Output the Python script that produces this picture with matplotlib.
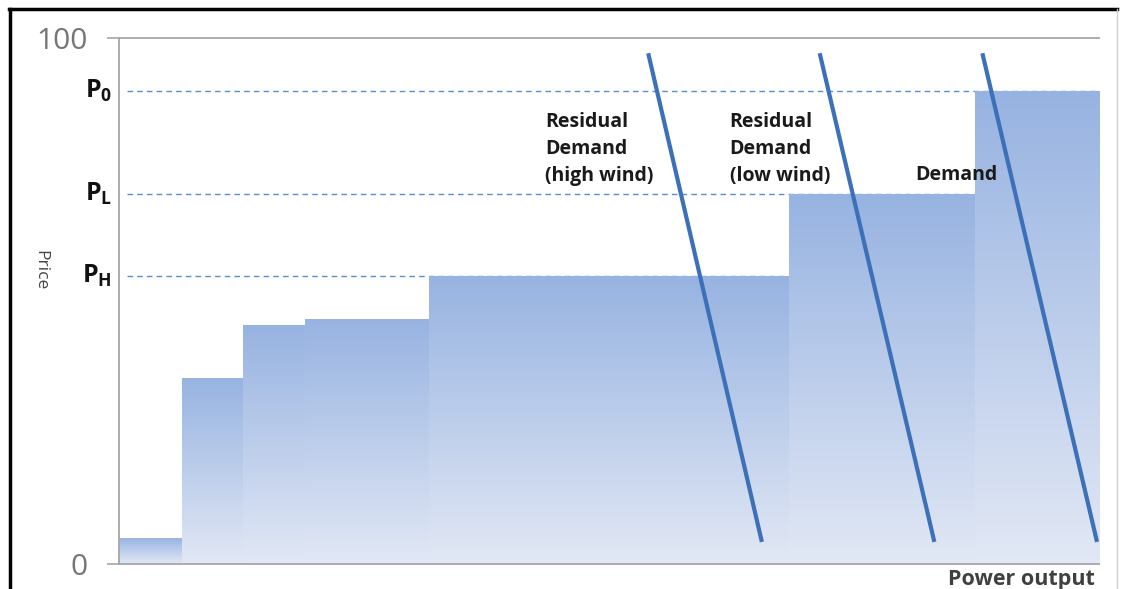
import numpy as np
import matplotlib
matplotlib.use("Agg")
import matplotlib.pyplot as plt
from matplotlib.colors import LinearSegmentedColormap
from matplotlib.lines import Line2D

# ---- data ----
step_left = [0, 6.4, 12.7, 19.0, 31.6, 68.4, 87.3]
step_width = [6.4, 6.3, 6.3, 12.6, 36.8, 18.9, 12.7]
step_price = [5, 35.4, 45.4, 46.6, 54.8, 70.4, 90]

price_levels = [90, 70.4, 54.8]
price_labels = [r"$\mathbf{P_0}$", r"$\mathbf{P_L}$", r"$\mathbf{P_H}$"]

demand_names = ["Residual\nDemand\n(high wind)", "Residual\nDemand\n(low wind)", "Demand"]
demand_x_top = [54.0, 71.5, 88.1]
demand_x_bottom = [65.6, 83.2, 99.8]
demand_y_top = [97.1, 97.1, 97.1]
demand_y_bottom = [4.2, 4.2, 4.2]
label_x = [43.5, 62.3, 81.2]
label_y = [78.9, 78.9, 74.0]

yticks = [0, 100]

# ---- style ----
plt.rcParams['font.family'] = ['Open Sans', 'DejaVu Sans']
plt.rcParams['mathtext.fontset'] = 'custom'
plt.rcParams['mathtext.rm'] = 'Open Sans'
plt.rcParams['mathtext.bf'] = 'Open Sans:bold'
plt.rcParams['mathtext.it'] = 'Open Sans:italic'

fig = plt.figure(figsize=(11.23, 5.89), dpi=100)
ax = fig.add_axes([119/1123, 25/589, 980/1123, 526/589])

gray = '#a6a6a6'
cmap = LinearSegmentedColormap.from_list('g', ['#e2e8f5', '#97b3e1'])

bars = ax.bar(step_left, step_price, width=step_width, align='edge',
              facecolor='none', edgecolor='none', zorder=2)
grad = np.linspace(0, 1, 256).reshape(-1, 1)
for b in bars:
    x0, w, h = b.get_x(), b.get_width(), b.get_height()
    im = ax.imshow(grad, cmap=cmap, extent=[x0, x0 + w, 0, h], origin='lower',
                   aspect='auto', zorder=2, interpolation='bicubic')
    im.set_clip_path(b)

# dashed price levels
for lvl, lab in zip(price_levels, price_labels):
    ax.plot([0.8, 100], [lvl, lvl], ls=(0, (4, 3)), color='#5b8ed0', lw=1.0, zorder=1)
    ax.text(-0.7, lvl, lab, ha='right', va='center',
            fontsize=18, color='#111111', clip_on=False)

# demand lines
for xt, xb, yt, yb in zip(demand_x_top, demand_x_bottom, demand_y_top, demand_y_bottom):
    ax.plot([xt, xb], [yt, yb], color='#3c70b8', lw=3.0, solid_capstyle='butt', zorder=4)

for name, lx, ly in zip(demand_names, label_x, label_y):
    ax.text(lx, ly, name, ha='left', va='center', fontsize=14, fontweight='bold',
            color='#1a1a1a', linespacing=1.45, zorder=5, multialignment='left')

ax.set_xlim(0, 100)
ax.set_ylim(0, 100)
ax.set_yticks(yticks)
ax.set_yticklabels([str(t) for t in yticks])
ax.set_xticks([])
ax.tick_params(axis='y', length=8.6, width=1.2, color=gray, labelsize=21.5,
               labelcolor='#767676', pad=14)
for s in ['left', 'bottom', 'top']:
    ax.spines[s].set_color(gray)
    ax.spines[s].set_linewidth(1.3)
ax.spines['right'].set_visible(False)
ax.set_facecolor('none')

fig.text(40/1123, 1 - 270/589, 'Price', rotation=270, ha='center', va='center',
         fontsize=12.5, color='#454545')
fig.text(1021/1123, 1 - 585/589, 'Power output', ha='center', va='baseline',
         fontsize=15.5, color='#404040', fontweight='bold')

# frame
fig.add_artist(Line2D([10/1123, 10/1123], [0, 1 - 9/589], transform=fig.transFigure,
                      color='black', lw=2.5))
fig.add_artist(Line2D([9/1123, 1117/1123], [1 - 9/589, 1 - 9/589], transform=fig.transFigure,
                      color='black', lw=2.5))
fig.add_artist(Line2D([1117/1123, 1117/1123], [0, 1 - 9/589], transform=fig.transFigure,
                      color='#d0d0d0', lw=1.0))

fig.savefig('out.png', dpi=100)
